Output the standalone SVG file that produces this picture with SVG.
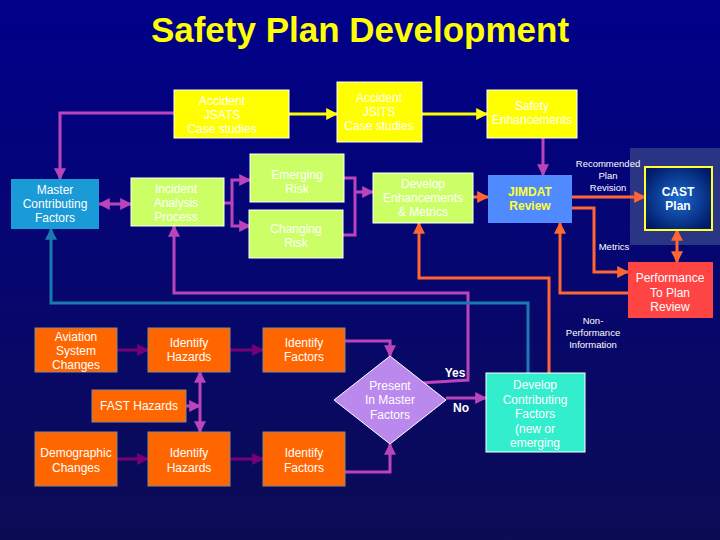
<svg xmlns="http://www.w3.org/2000/svg" width="720" height="540" viewBox="0 0 720 540">
<defs>
<linearGradient id="bg" x1="0" y1="0" x2="0" y2="1"><stop offset="0" stop-color="#00008a"/><stop offset="1" stop-color="#0c0c55"/></linearGradient>
<radialGradient id="cast" cx="0.5" cy="0.5" r="0.6"><stop offset="0" stop-color="#1a6ad0"/><stop offset="1" stop-color="#001a66"/></radialGradient>
<marker id="ap" viewBox="0 0 10 10" refX="9" refY="5" markerWidth="4" markerHeight="4" orient="auto-start-reverse"><path d="M0,0L10,5L0,10z" fill="#bb44bb"/></marker>
<marker id="ad" viewBox="0 0 10 10" refX="9" refY="5" markerWidth="4" markerHeight="4" orient="auto-start-reverse"><path d="M0,0L10,5L0,10z" fill="#770077"/></marker>
<marker id="ay" viewBox="0 0 10 10" refX="9" refY="5" markerWidth="4" markerHeight="4" orient="auto-start-reverse"><path d="M0,0L10,5L0,10z" fill="#ffff00"/></marker>
<marker id="ao" viewBox="0 0 10 10" refX="9" refY="5" markerWidth="4" markerHeight="4" orient="auto-start-reverse"><path d="M0,0L10,5L0,10z" fill="#ff6633"/></marker>
<marker id="ab" viewBox="0 0 10 10" refX="9" refY="5" markerWidth="4" markerHeight="4" orient="auto-start-reverse"><path d="M0,0L10,5L0,10z" fill="#1a7ab0"/></marker>
<style>
text{font-family:"Liberation Sans",Arial,sans-serif;text-anchor:middle;fill:#fff;font-size:12px}
.t{font-size:12px}
.s{font-size:9.5px}
.yb{fill:#ffff00;stroke:#fff;stroke-width:1}
.gb{fill:#ccff66;stroke:#fff;stroke-width:1}
.ob{fill:#ff6600;stroke:#888;stroke-width:1}
.c{fill:none;stroke-width:3}
.p{stroke:#bb44bb}.d{stroke:#770077}.y{stroke:#ffff00}.o{stroke:#ff6633}.b{stroke:#1a7ab0}
</style>
</defs>
<rect width="720" height="540" fill="url(#bg)"/>
<text x="360" y="42" style="font-size:35px;font-weight:bold;fill:#ffff00">Safety Plan Development</text>
<rect x="630" y="148" width="90" height="97" fill="#3a4a8a" opacity="0.7"/>
<g id="connectors">
<path class="c p" d="M174,113H60V179" marker-end="url(#ap)"/>
<path class="c y" d="M289,114H337" marker-end="url(#ay)"/>
<path class="c y" d="M422,114H487" marker-end="url(#ay)"/>
<path class="c p" d="M543,138V175" marker-end="url(#ap)"/>
<path class="c p" d="M99,204H131" marker-start="url(#ap)" marker-end="url(#ap)"/>
<path class="c p" d="M224,203H232V180H250" marker-end="url(#ap)"/>
<path class="c p" d="M232,203V226H250" marker-end="url(#ap)"/>
<path class="c p" d="M344,178H355V235H343"/>
<path class="c p" d="M355,192H373" marker-end="url(#ap)"/>
<path class="c o" d="M473,197H488" marker-end="url(#ao)"/>
<path class="c o" d="M572,197H645" marker-end="url(#ao)"/>
<path class="c o" d="M572,208H594V272H628" marker-end="url(#ao)"/>
<path class="c o" d="M677,230V262" marker-start="url(#ao)" marker-end="url(#ao)"/>
<path class="c o" d="M628,293H560V223" marker-end="url(#ao)"/>
<path class="c o" d="M549,373V278H419V223" marker-end="url(#ao)"/>
<path class="c p" d="M420,383L468,380V293H174V226" marker-end="url(#ap)"/>
<path class="c b" d="M528,373V303H51V229" marker-end="url(#ab)"/>
<path class="c p" d="M446,398H486" marker-end="url(#ap)"/>
<path class="c d" d="M117,350H148" marker-end="url(#ad)"/>
<path class="c d" d="M230,350H263" marker-end="url(#ad)"/>
<path class="c p" d="M345,341H390V356" marker-end="url(#ap)"/>
<path class="c d" d="M117,459H148" marker-end="url(#ad)"/>
<path class="c d" d="M230,459H263" marker-end="url(#ad)"/>
<path class="c p" d="M345,472H390V444" marker-end="url(#ap)"/>
<path class="c p" d="M200,372V432" marker-start="url(#ap)" marker-end="url(#ap)"/>
<path class="c p" d="M186,406H200" marker-end="url(#ap)"/>
</g>
<g id="labels">
<text class="s" x="608" y="167">Recommended</text><text class="s" x="608" y="179">Plan</text><text class="s" x="608" y="191">Revision</text>
<text class="s" x="614" y="250">Metrics</text>
<text class="s" x="593" y="324">Non-</text><text class="s" x="593" y="336">Performance</text><text class="s" x="593" y="348">Information</text>
<text x="455" y="377" style="font-weight:bold">Yes</text>
<text x="461" y="412" style="font-weight:bold">No</text>
</g>
<g id="jsats"><rect class="yb" x="174" y="90" width="115" height="48"/><text x="222" y="105">Accident</text><text x="222" y="119">JSATS</text><text x="222" y="133">Case studies</text></g>
<g id="jsits"><rect class="yb" x="337" y="82" width="85" height="60"/><text x="379" y="102">Accident</text><text x="379" y="116">JSITS</text><text x="379" y="130">Case studies</text></g>
<g id="safety"><rect class="yb" x="487" y="90" width="90" height="48"/><text x="532" y="110">Safety</text><text x="532" y="124">Enhancements</text></g>
<g id="master"><rect x="11" y="179" width="88" height="50" fill="#1a9ad6"/><text x="55" y="194">Master</text><text x="55" y="208">Contributing</text><text x="55" y="222">Factors</text></g>
<g id="incident"><rect class="gb" x="131" y="178" width="93" height="48"/><text x="176" y="193">Incident</text><text x="176" y="207">Analysis</text><text x="176" y="221">Process</text></g>
<g id="emerging"><rect class="gb" x="250" y="154" width="94" height="48"/><text x="297" y="179">Emerging</text><text x="297" y="193">Risk</text></g>
<g id="changing"><rect class="gb" x="249" y="210" width="94" height="48"/><text x="296" y="233">Changing</text><text x="296" y="247">Risk</text></g>
<g id="develop"><rect class="gb" x="373" y="173" width="100" height="50"/><text x="423" y="188">Develop</text><text x="423" y="202">Enhancements</text><text x="423" y="216">&amp; Metrics</text></g>
<g id="jimdat"><rect x="488" y="175" width="84" height="48" fill="#4f8bff"/><text x="530" y="196" style="fill:#ffff33;font-weight:bold">JIMDAT</text><text x="530" y="210" style="fill:#ffff33;font-weight:bold">Review</text></g>
<g id="cast"><rect x="645" y="167" width="67" height="63" fill="url(#cast)" stroke="#ffff33" stroke-width="2"/><text x="678" y="196" style="font-weight:bold">CAST</text><text x="678" y="210" style="font-weight:bold">Plan</text></g>
<g id="perf"><rect x="628" y="262" width="85" height="56" fill="#ff4444"/><text x="670" y="282">Performance</text><text x="670" y="297">To Plan</text><text x="670" y="311">Review</text></g>
<g id="aviation"><rect class="ob" x="35" y="328" width="82" height="44"/><text x="76" y="341">Aviation</text><text x="76" y="355">System</text><text x="76" y="369">Changes</text></g>
<g id="hazards1"><rect class="ob" x="148" y="328" width="82" height="44"/><text x="189" y="347">Identify</text><text x="189" y="361">Hazards</text></g>
<g id="factors1"><rect class="ob" x="263" y="328" width="82" height="44"/><text x="304" y="347">Identify</text><text x="304" y="361">Factors</text></g>
<g id="fast"><rect class="ob" x="92" y="390" width="94" height="32"/><text x="139" y="410">FAST Hazards</text></g>
<g id="demographic"><rect class="ob" x="35" y="432" width="82" height="54"/><text x="76" y="457">Demographic</text><text x="76" y="472">Changes</text></g>
<g id="hazards2"><rect class="ob" x="148" y="432" width="82" height="54"/><text x="189" y="457">Identify</text><text x="189" y="472">Hazards</text></g>
<g id="factors2"><rect class="ob" x="263" y="432" width="82" height="54"/><text x="304" y="457">Identify</text><text x="304" y="472">Factors</text></g>
<g id="present"><path d="M390,356L446,400L390,444L334,400z" fill="#bb88ee" stroke="#fff" stroke-width="1"/><text x="390" y="390">Present</text><text x="390" y="404">In Master</text><text x="390" y="419">Factors</text></g>
<g id="contrib"><rect x="486" y="373" width="99" height="79" fill="#33eecc" stroke="#fff" stroke-width="1"/><text x="535" y="389">Develop</text><text x="535" y="404">Contributing</text><text x="535" y="418">Factors</text><text x="535" y="433">(new or</text><text x="535" y="447">emerging</text></g>
</svg>
